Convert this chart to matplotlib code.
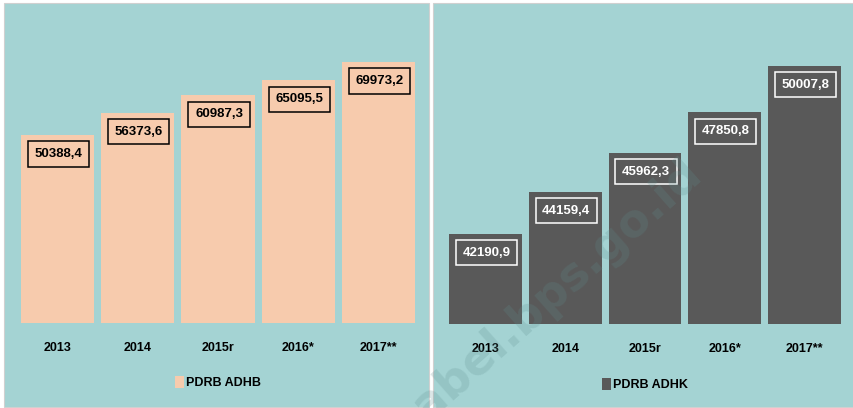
import matplotlib
matplotlib.use("Agg")
import matplotlib.pyplot as plt
from matplotlib import font_manager
from matplotlib.patches import Rectangle, Patch

years = ["2013", "2014", "2015r", "2016*", "2017**"]
adhb = [50388.4, 56373.6, 60987.3, 65095.5, 69973.2]
adhk = [42190.9, 44159.4, 45962.3, 47850.8, 50007.8]

names = {f.name for f in font_manager.fontManager.ttflist}
font = "Liberation Sans Narrow" if "Liberation Sans Narrow" in names else "Liberation Sans"
plt.rcParams["font.family"] = [font, "DejaVu Sans"]

bg = "#a4d3d3"
W, H = 854, 408
fig = plt.figure(figsize=(W / 100, H / 100), dpi=100)
fig.patch.set_facecolor("white")

# panel backgrounds
fig.patches.append(Rectangle((4 / W, 1 - 407 / H), 425 / W, 404 / H, transform=fig.transFigure,
                             facecolor=bg, edgecolor="#d0d0d0", lw=0.8, zorder=-5))
fig.patches.append(Rectangle((433 / W, 1 - 407 / H), 421 / W, 404 / H, transform=fig.transFigure,
                             facecolor=bg, edgecolor="#d0d0d0", lw=0.8, zorder=-5))


def panel(rect, vals, ylim, color, boxcol, legend_label):
    ax = fig.add_axes(rect)
    ax.set_facecolor("none")
    x = range(len(years))
    ax.bar(x, vals, width=0.91, color=color, zorder=2)
    ax.set_xlim(-0.5, len(years) - 0.5)
    ax.set_ylim(*ylim)
    for i, v in enumerate(vals):
        ax.annotate(f"{v:.1f}".replace(".", ","), (i, v), xytext=(1, -19), textcoords="offset pixels",
                    ha="center", va="center", fontsize=9.5, fontweight="bold", color=boxcol, zorder=3,
                    bbox=dict(boxstyle="square,pad=0.5", facecolor="none", edgecolor=boxcol, lw=1.1))
    ax.set_xticks(list(x))
    ax.set_xticklabels(years, fontsize=9, fontweight="bold")
    ax.tick_params(axis="x", length=0, pad=14)
    ax.set_yticks([])
    for s in ax.spines.values():
        s.set_visible(False)
    ax.legend(handles=[Patch(facecolor=color, label=legend_label)], loc="center",
              bbox_to_anchor=(0.5, -0.2), frameon=False, handlelength=0.7, handleheight=1.1,
              handletextpad=0.2, prop=dict(size=9, weight="bold"))
    return ax


panel([17.4 / W, (H - 323) / H, 401.2 / W, 298.5 / H], adhb, (0, 80000), "#f7cbad", "black", "PDRB ADHB")
panel([445.6 / W, (H - 324) / H, 398.8 / W, 301 / H], adhk, (38000, 52000), "#595959", "white", "PDRB ADHK")

# faint watermark
fig.text(545 / W, 1 - 300 / H, "babel.bps.go.id", rotation=41.5, ha="center", va="center",
         fontsize=33, fontweight="bold", family="DejaVu Sans", color="#5f8f90", alpha=0.22, zorder=10)

fig.savefig("out.png", dpi=100, facecolor=fig.get_facecolor())
